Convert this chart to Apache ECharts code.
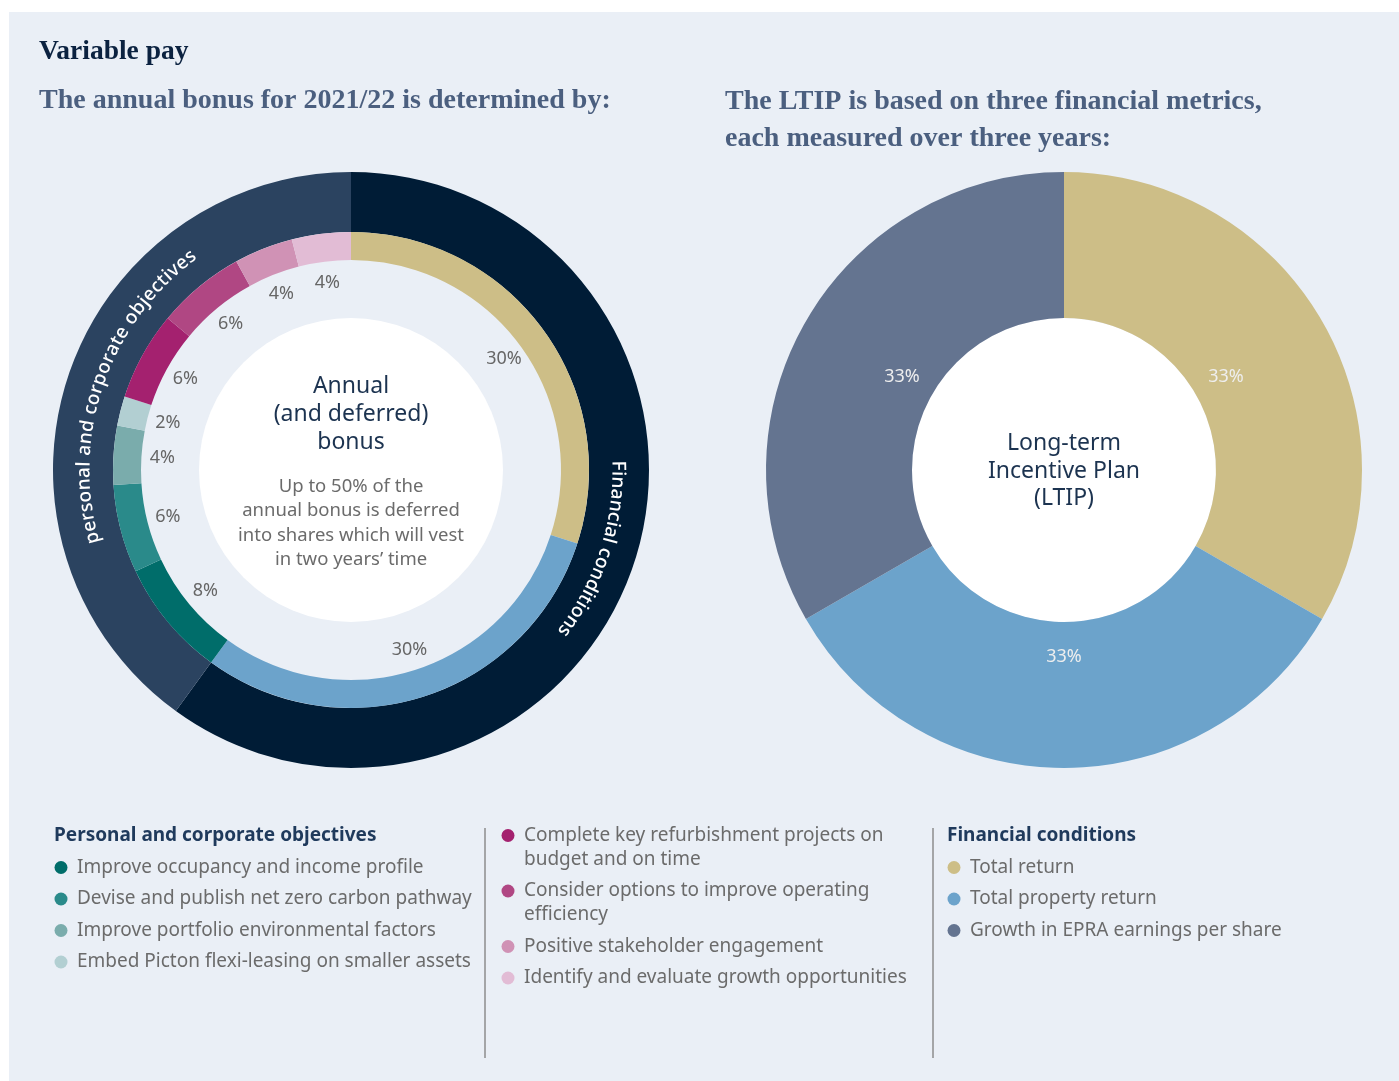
<!DOCTYPE html>
<html>
<head>
<meta charset="utf-8">
<title>Variable pay</title>
<script src="https://cdn.jsdelivr.net/npm/echarts@6/dist/echarts.min.js"></script>
<style>
    html, body { margin: 0; padding: 0; background: #ffffff; }
    #main { width: 1399px; height: 1081px; }
</style>
</head>
<body>
<div id="main"></div>
<script>
// annual bonus, inner ring (clockwise from 12 o'clock)
var bonusNames = [
    'Total return',
    'Total property return',
    'Improve occupancy and income profile',
    'Devise and publish net zero carbon pathway',
    'Improve portfolio environmental factors',
    'Embed Picton flexi-leasing on smaller assets',
    'Complete key refurbishment projects on budget and on time',
    'Consider options to improve operating efficiency',
    'Positive stakeholder engagement',
    'Identify and evaluate growth opportunities'
];
var bonusValues = [30, 30, 8, 6, 4, 2, 6, 6, 4, 4];
var bonusColors = ['#cdbe87', '#6ca3cb', '#006d6a', '#2a8a8a', '#7aacac', '#b2cfd2',
                   '#a4216f', '#b04783', '#d092b5', '#e2bcd5'];

// annual bonus, outer ring
var groupNames = ['Financial conditions', 'personal and corporate objectives'];
var groupValues = [60, 40];
var groupColors = ['#001c36', '#2b4360'];

// LTIP
var ltipNames = ['Total return', 'Total property return', 'Growth in EPRA earnings per share'];
var ltipValues = [33, 33, 33];
var ltipColors = ['#cdbe87', '#6ca3cb', '#647490'];

// legend columns
var legendPersonal = [
    ['Improve occupancy and income profile'],
    ['Devise and publish net zero carbon pathway'],
    ['Improve portfolio environmental factors'],
    ['Embed Picton flexi-leasing on smaller assets']
];
var legendPersonal2 = [
    ['Complete key refurbishment projects on', 'budget and on time'],
    ['Consider options to improve operating', 'efficiency'],
    ['Positive stakeholder engagement'],
    ['Identify and evaluate growth opportunities']
];
var legendFinancial = [
    ['Total return'],
    ['Total property return'],
    ['Growth in EPRA earnings per share']
];
var legendPersonalColors = bonusColors.slice(2, 6);
var legendPersonal2Colors = bonusColors.slice(6, 10);
var legendFinancialColors = ltipColors;

var SANS = '"Noto Sans", sans-serif';
var SERIF = '"Liberation Serif", serif';

var cxBonus = 351, cxLtip = 1064, cy = 470;

function pieData(names, values, colors, transparent) {
    var out = [];
    for (var i = 0; i < names.length; i++) {
        out.push({
            name: names[i],
            value: values[i],
            itemStyle: { color: transparent ? 'rgba(0,0,0,0)' : colors[i] }
        });
    }
    return out;
}

// text bent along a ring, running clockwise, tops pointing outward
var measureCtx = document.createElement('canvas').getContext('2d');
function arcText(str, cx, cy, r, centerDeg, spanDeg, font, color) {
    measureCtx.font = font;
    var widths = [];
    var total = 0;
    for (var i = 0; i < str.length; i++) {
        var w = measureCtx.measureText(str[i]).width;
        widths.push(w);
        total += w;
    }
    var arcLen = r * spanDeg * Math.PI / 180;
    var gap = (arcLen - total) / (str.length - 1);
    var start = (centerDeg - spanDeg / 2) * Math.PI / 180;
    var acc = 0;
    var els = [];
    for (var i = 0; i < str.length; i++) {
        var theta = start + (acc + widths[i] / 2) / r;
        acc += widths[i] + gap;
        if (str[i] == ' ') {
            continue;
        }
        els.push({
            type: 'text',
            x: cx + r * Math.sin(theta),
            y: cy - r * Math.cos(theta),
            rotation: -theta,
            silent: true,
            z: 10,
            style: {
                text: str[i],
                font: font,
                fill: color,
                align: 'center',
                verticalAlign: 'middle'
            }
        });
    }
    return els;
}

function legendColumn(x, y, header, items, colors) {
    var els = [];
    if (header) {
        els.push({
            type: 'text', x: x - 7, y: y, z: 10,
            style: { text: header, font: 'bold 19px ' + SANS, fill: '#1f3a5c', verticalAlign: 'middle' }
        });
        y += 32;
    }
    for (var i = 0; i < items.length; i++) {
        els.push({
            type: 'circle', z: 10,
            shape: { cx: x, cy: y, r: 6.5 },
            style: { fill: colors[i] }
        });
        // first line sits level with the dot
        els.push({
            type: 'text', x: x + 16, y: y - 12, z: 10,
            style: {
                text: items[i].join('\n'),
                font: '19px ' + SANS,
                lineHeight: 24,
                fill: '#6b6b6b',
                verticalAlign: 'top'
            }
        });
        y += (items[i].length - 1) * 24 + 31.5;
    }
    return els;
}

var graphics = [
    { type: 'rect', z: -10, silent: true, shape: { x: 9, y: 12, width: 1390, height: 1069 }, style: { fill: '#eaeff6' } },
    { type: 'circle', z: 1, silent: true, shape: { cx: cxBonus, cy: cy, r: 152 }, style: { fill: '#ffffff' } },
    { type: 'circle', z: 1, silent: true, shape: { cx: cxLtip, cy: cy, r: 152 }, style: { fill: '#ffffff' } },
    { type: 'text', x: 39, y: 52, style: { text: 'Variable pay', font: 'bold 27.5px ' + SERIF, fill: '#0b2240', verticalAlign: 'middle' } },
    { type: 'text', x: 39, y: 101, style: { text: 'The annual bonus for 2021/22 is determined by:', font: 'bold 28px ' + SERIF, fill: '#4b5f7f', verticalAlign: 'middle' } },
    { type: 'text', x: 725, y: 120, style: { text: 'The LTIP is based on three financial metrics,\neach measured over three years:', font: 'bold 28px ' + SERIF, lineHeight: 37, fill: '#4b5f7f', verticalAlign: 'middle' } },
    { type: 'text', x: cxBonus, y: 414, z: 10, style: { text: 'Annual\n(and deferred)\nbonus', font: '23px ' + SANS, lineHeight: 28, fill: '#1c3350', align: 'center', verticalAlign: 'middle' } },
    { type: 'text', x: cxBonus, y: 523, z: 10, style: { text: 'Up to 50% of the\nannual bonus is deferred\ninto shares which will vest\nin two years\u2019 time', font: '18.5px ' + SANS, lineHeight: 24.5, fill: '#6b6b6b', align: 'center', verticalAlign: 'middle' } },
    { type: 'text', x: cxLtip, y: 471, z: 10, style: { text: 'Long-term\nIncentive Plan\n(LTIP)', font: '23px ' + SANS, lineHeight: 27.5, fill: '#1c3350', align: 'center', verticalAlign: 'middle' } },
    { type: 'line', shape: { x1: 485, y1: 828, x2: 485, y2: 1058 }, style: { stroke: '#8c8c8c', lineWidth: 1.5 } },
    { type: 'line', shape: { x1: 933, y1: 828, x2: 933, y2: 1058 }, style: { stroke: '#8c8c8c', lineWidth: 1.5 } }
];
graphics = graphics
    .concat(arcText(groupNames[1], cxBonus, cy, 267, 289, 70, '500 19px ' + SANS, '#ffffff'))
    .concat(arcText(groupNames[0], cxBonus, cy, 267, 108, 40, '500 19px ' + SANS, '#ffffff'))
    .concat(legendColumn(61, 835.5, 'Personal and corporate objectives', legendPersonal, legendPersonalColors))
    .concat(legendColumn(508, 835.5, null, legendPersonal2, legendPersonal2Colors))
    .concat(legendColumn(954, 835.5, 'Financial conditions', legendFinancial, legendFinancialColors));

var pctLabel = {
    show: true,
    position: 'inside',
    formatter: '{c}%',
    color: '#666666',
    fontSize: 18,
    fontFamily: SANS
};

var option = {
    animation: false,
    graphic: { elements: graphics },
    series: [
        {
            type: 'pie', center: [cxBonus, cy], radius: [238, 298], startAngle: 90,
            silent: true, label: { show: false }, labelLine: { show: false },
            emphasis: { disabled: true },
            data: pieData(groupNames, groupValues, groupColors)
        },
        {
            type: 'pie', center: [cxBonus, cy], radius: [210, 238], startAngle: 90,
            silent: true, label: { show: false }, labelLine: { show: false },
            emphasis: { disabled: true },
            data: pieData(bonusNames, bonusValues, bonusColors)
        },
        {
            type: 'pie', center: [cxBonus, cy], radius: [152, 220], startAngle: 90, z: 5,
            silent: true, label: pctLabel, labelLine: { show: false },
            emphasis: { disabled: true },
            data: pieData(bonusNames, bonusValues, bonusColors, true)
        },
        {
            type: 'pie', center: [cxLtip, cy], radius: [152, 298], startAngle: 90,
            silent: true, label: { show: false }, labelLine: { show: false },
            emphasis: { disabled: true },
            data: pieData(ltipNames, ltipValues, ltipColors)
        },
        {
            type: 'pie', center: [cxLtip, cy], radius: [152, 216], startAngle: 90, z: 5,
            silent: true, label: Object.assign({}, pctLabel, { color: '#eeeeee' }), labelLine: { show: false },
            emphasis: { disabled: true },
            data: pieData(ltipNames, ltipValues, ltipColors, true)
        }
    ]
};

var myChart = echarts.init(document.getElementById('main'));
myChart.setOption(option);
</script>
</body>
</html>
